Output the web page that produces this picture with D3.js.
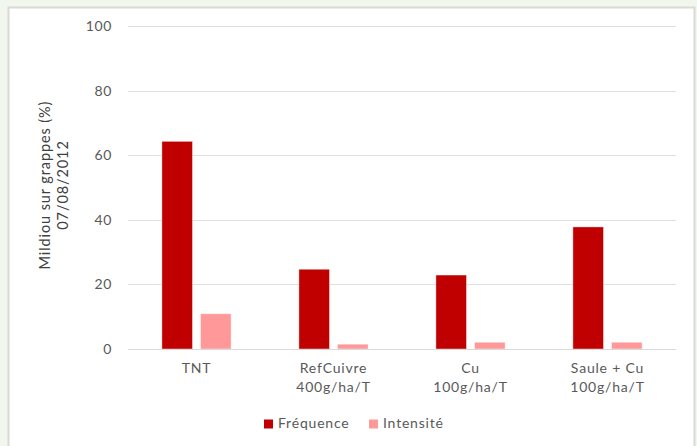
<!DOCTYPE html>
<html><head><meta charset="utf-8">
<script src="https://cdn.jsdelivr.net/npm/d3@7"></script>
<style>
html,body{margin:0;padding:0;background:#f2f7ee;}
svg{display:block;}
</style></head>
<body>
<svg id="chart" width="697" height="446"></svg>
<script>
const categories = [["TNT"], ["RefCuivre", "400g/ha/T"], ["Cu", "100g/ha/T"], ["Saule + Cu", "100g/ha/T"]];
const frequence = [64.3, 24.7, 22.9, 37.8];
const intensite = [10.9, 1.5, 2.1, 2.1];
const seriesNames = ["Fréquence", "Intensité"];
const seriesColors = ["#c00000", "#ff9999"];
const yTicks = [0, 20, 40, 60, 80, 100];
const yTitle = ["Mildiou sur grappes (%)", "07/08/2012"];

(function () {
const svg = d3.select("#chart");
const font = "Lato, 'Open Sans', sans-serif";

// panel
svg.append("rect").attr("x", 8.5).attr("y", 7.5).attr("width", 686).attr("height", 450)
  .attr("fill", "#fff").attr("stroke", "#d9d9d9").attr("stroke-width", 2);

const pLeft = 128, pRight = 676, pTop = 26, pBottom = 349;
const x0 = d3.scaleBand().domain(d3.range(categories.length)).range([pLeft, pRight]).paddingInner(0).paddingOuter(0);
const y = d3.scaleLinear().domain([0, 100]).range([pBottom, pTop]);

// gridlines
svg.append("g").selectAll("line").data(yTicks.filter(t => t > 0)).join("line")
  .attr("x1", pLeft).attr("x2", pRight)
  .attr("y1", d => Math.round(y(d)) + 0.5).attr("y2", d => Math.round(y(d)) + 0.5)
  .attr("stroke", "#e0e0e0").attr("stroke-width", 1);

// y tick labels
const yAxis = d3.axisLeft(y).tickValues(yTicks).tickSize(0).tickPadding(0);
const gy = svg.append("g").attr("transform", `translate(${pLeft - 16},0)`).call(yAxis);
gy.select(".domain").remove();
gy.selectAll("text").attr("font-family", font).attr("font-size", 14).attr("letter-spacing", 0.6).attr("fill", "#595959");

// bars
const bw = 30.6, gap = 8;
const series = [frequence, intensite];
series.forEach((vals, si) => {
  svg.append("g").selectAll("rect").data(vals).join("rect")
    .attr("x", (d, i) => x0(i) + x0.bandwidth() / 2 + (si === 0 ? -gap / 2 - bw : gap / 2))
    .attr("y", d => y(d))
    .attr("width", bw)
    .attr("height", d => pBottom - y(d))
    .attr("fill", seriesColors[si])
    .attr("stroke", "#fff").attr("stroke-width", 0.7).attr("stroke-opacity", 0.6);
});

// baseline
svg.append("line").attr("x1", pLeft).attr("x2", pRight).attr("y1", pBottom + 0.5).attr("y2", pBottom + 0.5)
  .attr("stroke", "#d9d9d9").attr("stroke-width", 1);

// category labels
const xl = svg.append("g");
categories.forEach((lines, i) => {
  const cx = x0(i) + x0.bandwidth() / 2;
  const t = xl.append("text").attr("x", cx).attr("y", 373)
    .attr("text-anchor", "middle").attr("font-family", font).attr("font-size", 14)
    .attr("letter-spacing", 0.8).attr("fill", "#595959");
  lines.forEach((l, j) => t.append("tspan").attr("x", cx).attr("dy", j === 0 ? 0 : 19).text(l));
});

// y title
const yt = svg.append("text").attr("transform", "translate(0,185) rotate(-90)")
  .attr("text-anchor", "middle").attr("font-family", font).attr("font-size", 14.5)
  .attr("letter-spacing", 0.9).attr("fill", "#404040");
yTitle.forEach((l, j) => yt.append("tspan").attr("x", 0).attr("y", j === 0 ? 50 : 68).text(l));

// legend
const legX = [264, 369];
seriesNames.forEach((n, i) => {
  svg.append("rect").attr("x", legX[i]).attr("y", 419.5).attr("width", 9).attr("height", 9).attr("fill", seriesColors[i]);
  svg.append("text").attr("x", legX[i] + 14).attr("y", 428).attr("font-family", font).attr("font-size", 14)
    .attr("letter-spacing", 0.8).attr("fill", "#595959").text(n);
});
})();
</script>
</body></html>
